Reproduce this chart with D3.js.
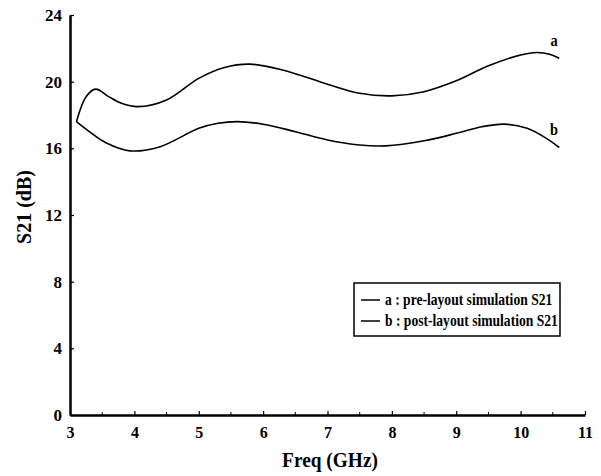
<!DOCTYPE html>
<html lang="en">
<head>
  <meta charset="UTF-8">
  <title>S21</title>
  <script src="https://d3js.org/d3.v7.min.js"></script>
  <style>
    body { margin: 0; background: #fff; }
    text { font-family: "Liberation Serif", "Times New Roman", serif; font-weight: bold; fill: #000; }
  </style>
</head>
<body>
  <script>
    const xTicks = [3, 4, 5, 6, 7, 8, 9, 10, 11];
    const yTicks = [0, 4, 8, 12, 16, 20, 24];

    // a : pre-layout simulation
    const freqA = [3.1, 3.25, 3.4, 3.6, 3.8, 4.05, 4.5, 5.0, 5.4, 5.8, 6.3, 7.0, 7.5, 8.0, 8.5, 9.0, 9.5, 10.0, 10.25, 10.45, 10.6];
    const s21A = [17.6, 19.1, 19.55, 19.1, 18.7, 18.5, 18.9, 20.2, 20.85, 21.05, 20.7, 19.85, 19.3, 19.15, 19.4, 20.05, 20.95, 21.6, 21.75, 21.65, 21.4];

    // b : post-layout simulation
    const freqB = [3.1, 3.3, 3.55, 3.93, 4.4, 5.0, 5.3, 5.6, 6.0, 6.5, 7.0, 7.5, 7.9, 8.5, 9.0, 9.4, 9.75, 10.1, 10.4, 10.6];
    const s21B = [17.6, 17.0, 16.35, 15.85, 16.1, 17.2, 17.5, 17.6, 17.45, 17.0, 16.5, 16.2, 16.15, 16.45, 16.9, 17.3, 17.45, 17.2, 16.6, 16.05];

    const legendItems = ["a : pre-layout simulation S21", "b : post-layout simulation S21"];

    const svg = d3.select("body")
      .append("svg")
      .attr("width", 601)
      .attr("height", 476);

    const x = d3.scaleLinear().domain([3, 11]).range([70, 585]);
    const y = d3.scaleLinear().domain([0, 24]).range([415, 15]);

    // narrow bold text, like the condensed Times in the original
    const label = (t, tx, ty, size, sx, anchor, rot) => svg.append("text")
      .attr("transform", `translate(${tx},${ty})` + (rot ? ` rotate(${rot})` : "") + ` scale(${sx},1)`)
      .attr("text-anchor", anchor || "start")
      .attr("font-size", size)
      .text(t);

    // minor ticks on x
    svg.append("g")
      .selectAll("line")
      .data(d3.range(3.5, 11, 1))
      .join("line")
      .attr("x1", d => x(d)).attr("x2", d => x(d))
      .attr("y1", 415).attr("y2", 412)
      .attr("stroke", "#000").attr("stroke-width", 1);

    const xAxis = svg.append("g")
      .attr("transform", "translate(0,415)")
      .call(d3.axisBottom(x).tickValues(xTicks).tickSize(-4).tickPadding(9).tickSizeOuter(0));
    xAxis.select(".domain").attr("stroke-width", 2.5);
    xAxis.selectAll(".tick line").attr("stroke-width", 1.2);
    xAxis.selectAll("text").attr("font-size", 16).attr("dy", "0.9em");

    const yAxis = svg.append("g")
      .attr("transform", "translate(70,0)")
      .call(d3.axisLeft(y).tickValues(yTicks).tickSize(-4).tickPadding(8).tickSizeOuter(0));
    yAxis.select(".domain").attr("stroke-width", 2.5);
    yAxis.selectAll(".tick line").attr("stroke-width", 1.2);
    yAxis.selectAll("text").attr("font-size", 17);
    svg.selectAll(".tick text").style("font-family", "'Liberation Serif', serif").style("font-weight", "bold");

    label("Freq (GHz)", 330, 467, 22, 0.88, "middle");
    label("S21 (dB)", 31, 207, 20, 1, "middle", -90);

    const line = d3.line()
      .x(d => x(d[0]))
      .y(d => y(d[1]))
      .curve(d3.curveCatmullRom.alpha(0.5));

    const series = [
      freqA.map((f, i) => [f, s21A[i]]),
      freqB.map((f, i) => [f, s21B[i]])
    ];

    svg.selectAll(".curve")
      .data(series)
      .join("path")
      .attr("class", "curve")
      .attr("d", line)
      .attr("fill", "none")
      .attr("stroke", "#000")
      .attr("stroke-width", 1.6);

    label("a", 554, 46, 16, 0.9, "middle");
    label("b", 554, 135, 16, 0.9, "middle");

    // legend
    svg.append("rect")
      .attr("x", 354).attr("y", 283)
      .attr("width", 206).attr("height", 53)
      .attr("fill", "#fff")
      .attr("stroke", "#000")
      .attr("stroke-width", 1.5);

    legendItems.forEach((t, i) => {
      const ly = 300 + i * 21;
      svg.append("line")
        .attr("x1", 361).attr("x2", 380)
        .attr("y1", ly).attr("y2", ly)
        .attr("stroke", "#000").attr("stroke-width", 1.5);
      label(t, 385, ly + 5, 16, 0.85);
    });
  </script>
</body>
</html>
